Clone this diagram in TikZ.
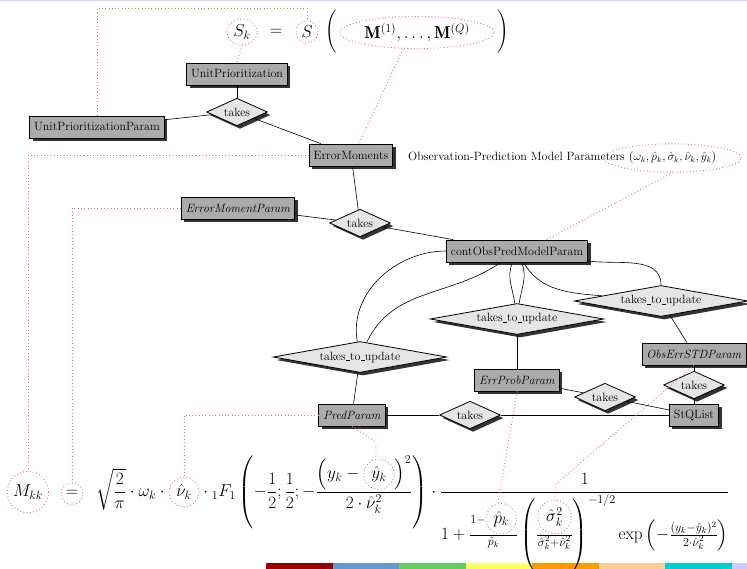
\RequirePackage{fix-cm}
\documentclass[tikz,border=0pt]{standalone}
\usepackage{amsmath}
\usepackage{fontspec}
\usepackage{xcolor}
\usetikzlibrary{shapes.geometric, shadows, calc}

\definecolor{barred}{HTML}{990000}
\definecolor{barblue}{HTML}{6699CC}
\definecolor{bargreen}{HTML}{66CC66}
\definecolor{baryellow}{HTML}{FFFF66}
\definecolor{barorange}{HTML}{FF9900}
\definecolor{barpeach}{HTML}{FFCC99}
\definecolor{barteal}{HTML}{00CCCC}
\definecolor{barlav}{HTML}{CCCCFF}
\definecolor{annotred}{HTML}{F76B6B}

\newcommand{\nodefont}{\fontsize{12}{14.4}\selectfont}
\newcommand{\fmlfont}{\fontsize{17.25}{20.7}\selectfont}
\newcommand{\us}{\kern.06em\vbox{\hrule width.3em}}
% dotted circle inside a formula
\newcommand{\incirc}[2]{\tikz[baseline=0pt]\node[circmark, anchor=base] (#1) {$#2$};}

\tikzset{
  shade/.style={drop shadow={shadow xshift=3pt, shadow yshift=-3pt, fill=black!80, opacity=1}},
  entity/.style={rectangle, draw=black, thick, fill=black!33, inner xsep=4.5pt,
    minimum height=22pt, font=\nodefont, shade},
  relation/.style={diamond, draw=black, thick, fill=black!10, aspect=2.2,
    inner sep=2.5pt, font=\nodefont, shade},
  widerel/.style={relation, aspect=5.6},
  link/.style={semithick},
  annot/.style={draw=annotred, line width=0.9pt, dash pattern=on 0.9pt off 2.4pt},
  circmark/.style={circle, annot, inner sep=3pt},
  ellmark/.style={ellipse, annot, inner sep=2pt},
  fml/.style={font=\fmlfont, inner sep=0pt},
}

\begin{document}
\begin{tikzpicture}[x=1pt, y=-1pt]
  \useasboundingbox (0,0) rectangle (747,569);

  % slide frame
  \fill[barlav!80] (0,0) rectangle (747,1.5);
  \foreach \c [count=\i from 0] in {barred,barblue,bargreen,baryellow,barorange,barpeach,barteal,barlav} {
    \fill[\c] (266+\i*66.5, 563) rectangle ++(66.5,6);
  }

  % S_k = S(...)
  \node[fml, ellmark] (Sk) at (242,32) {$S_k$};
  \node[fml] (eqt) at (276,32) {$=$};
  \node[fml, ellmark] (S) at (307,32) {$S$};
  \node[fml, font=\fontsize{15}{18}\selectfont] (lpar) at (331,32) {$\Bigg($};
  \node[fml, ellmark] (mats) at (417,32.5) {$\mathbf{M}^{(1)},\ldots,\mathbf{M}^{(Q)}$};
  \node[fml, font=\fontsize{15}{18}\selectfont] (rpar) at (503,32) {$\Bigg)$};

  % entities
  \node[entity] (uprio) at (237,74) {UnitPrioritization};
  \node[entity] (upparam) at (97,127) {UnitPrioritizationParam};
  \node[entity] (errmom) at (351,155) {ErrorMoments};
  \node[entity] (emparam) at (238,208) {\textit{ErrorMomentParam}};
  \node[entity] (cont) at (517,251) {contObsPredModelParam};
  \node[entity] (obsstd) at (694,354) {\textit{ObsErrSTDParam}};
  \node[entity] (errprob) at (517,380) {\textit{ErrProbParam}};
  \node[entity] (pred) at (352,415) {\textit{PredParam}};
  \node[entity] (stq) at (694,415) {StQList};

  % relationships
  \node[relation] (tk1) at (237,112) {takes};
  \node[relation] (tk2) at (360,223) {takes};
  \node[widerel] (ttuL) at (360,357) {takes\us to\us update};
  \node[widerel] (ttuM) at (517,319) {takes\us to\us update};
  \node[widerel] (ttuR) at (661,301) {takes\us to\us update};
  \node[relation] (tk3) at (470,415) {takes};
  \node[relation] (tk4) at (605,397) {takes};
  \node[relation] (tk5) at (694,385) {takes};

  \foreach \a/\b in {uprio/tk1, upparam/tk1, tk1/errmom, errmom/tk2, emparam/tk2, tk2/cont,
      ttuL/pred, ttuM/errprob, ttuR/obsstd, obsstd/tk5, tk5/stq, errprob/tk4, tk4/stq,
      pred/tk3, tk3/stq}
    \draw[link] (\a) -- (\b);

  % double links to contObsPredModelParam
  \draw[link] (cont) to[out=180, in=100] (ttuL);
  \draw[link] (cont) to[out=215, in=65] (ttuL);
  \draw[link] (cont) to[out=-112, in=98] (ttuM);
  \draw[link] (cont) to[out=-68, in=82] (ttuM);
  \draw[link] (cont) to[out=-8, in=90] (ttuR);
  \draw[link] (cont) to[out=-60, in=175] (ttuR);

  % parameter caption
  \node[anchor=base west, inner sep=0pt, font=\nodefont] (obs) at (408,161) {Observation-Prediction Model Parameters};
  \node[ellmark, font=\nodefont, anchor=text, inner xsep=5pt, inner ysep=4pt] (params)
    at ($(obs.base east)+(4,0)$) {$(\omega_k,\hat p_k,\hat\sigma_k,\hat\nu_k,\hat y_k)$};

  % M_kk formula
  \node[fml, circmark] (Mkk) at (28,492) {$M_{kk}$};
  \node[fml, circmark, anchor=base] (eqb) at ($(Mkk.base)+(44,0)$) {$=$};
  \node[fml, anchor=base west] (sqrtpart) at ($(eqb.base)+(24,0)$)
    {$\displaystyle\sqrt{\frac{2}{\pi}}\cdot\omega_k\cdot{}$};
  \node[fml, circmark, anchor=base west] (nuhat) at (sqrtpart.base east) {$\hat\nu_k$};
  \node[fml, anchor=base west] (rest) at (nuhat.base east)
    {$\displaystyle {}\cdot{}_1F_1\left(-\frac{1}{2};\frac{1}{2};-\frac{\left(y_k-\incirc{yhatc}{\hat y_k}\right)^2}{2\cdot\hat\nu_k^2}\right)\cdot
      \frac{1}{1+\frac{1-\incirc{phatc}{\hat p_k}}{\hat p_k}\left(\frac{\incirc{sighatc}{\hat\sigma_k^2}}{\hat\sigma_k^2+\hat\nu_k^2}\right)^{-1/2}\exp\left(-\frac{(y_k-\hat y_k)^2}{2\cdot\hat\nu_k^2}\right)}$};
  \coordinate (yhat) at (376,457);
  \coordinate (phat) at (498,503);
  \coordinate (sighat) at (555,500);

  % dotted annotations
  \draw[annot] (upparam.north) |- ($(S.north)+(0,-12)$) -- (S.north);
  \draw[annot] (Sk.south) -- (uprio.north);
  \draw[annot] ($(mats.south)+(-14,0)$) -- ($(errmom.north)+(8,0)$);
  \draw[annot] (errmom.west) -| (Mkk.north);
  \draw[annot] (emparam.west) -| (eqb.north);
  \draw[annot] (pred.west) -| (nuhat.north);
  \draw[annot] ($(cont.north)+(30,0)$) -- (params.south);
  \draw[annot] (pred.south) -- ($(yhat)+(0,-15)$) -- (yhat);
  \draw[annot] (errprob.south) -- (phat);
  \draw[annot] (obsstd.south) -- ($(sighat)+(0,-15)$) -- (sighat);
\end{tikzpicture}
\end{document}
